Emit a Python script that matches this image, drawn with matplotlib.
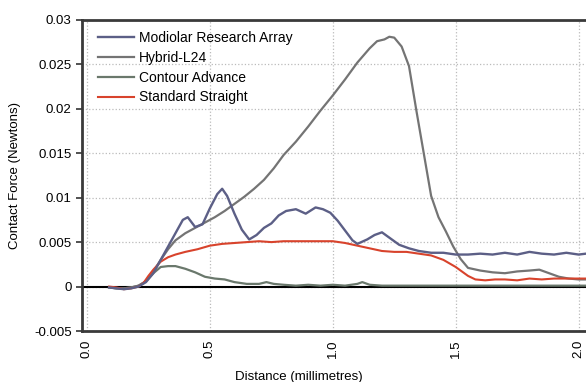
import matplotlib
matplotlib.use("Agg")
import matplotlib.pyplot as plt

plt.rcParams['font.family'] = ['Liberation Sans', 'DejaVu Sans']

# Modiolar Research Array
mra_x = [0.09, 0.12, 0.15, 0.18, 0.21, 0.24, 0.27, 0.30, 0.33, 0.36, 0.39, 0.41,
         0.44, 0.47, 0.50, 0.53, 0.55, 0.57, 0.60, 0.63, 0.66, 0.69, 0.72, 0.75,
         0.78, 0.81, 0.85, 0.89, 0.93, 0.96, 0.99, 1.02, 1.05, 1.08, 1.10, 1.14,
         1.17, 1.20, 1.23, 1.27, 1.31, 1.35, 1.40, 1.45, 1.50, 1.55, 1.60, 1.65,
         1.70, 1.75, 1.80, 1.85, 1.90, 1.95, 2.00, 2.03]
mra_y = [-0.0001, -0.0002, -0.0003, -0.0002, 0.0000, 0.0005, 0.0015, 0.0030,
         0.0045, 0.0060, 0.0075, 0.0078, 0.0067, 0.0070, 0.0088, 0.0104, 0.0110,
         0.0102, 0.0082, 0.0064, 0.0053, 0.0058, 0.0066, 0.0071, 0.0080, 0.0085,
         0.0087, 0.0082, 0.0089, 0.0087, 0.0083, 0.0074, 0.0063, 0.0052, 0.0048,
         0.0053, 0.0058, 0.0061, 0.0055, 0.0047, 0.0043, 0.0040, 0.0038, 0.0038,
         0.0036, 0.0036, 0.0037, 0.0036, 0.0038, 0.0036, 0.0039, 0.0037, 0.0036,
         0.0038, 0.0036, 0.0037]

# Hybrid-L24
hyb_x = [0.09, 0.12, 0.15, 0.18, 0.21, 0.24, 0.27, 0.30, 0.33, 0.36, 0.40, 0.44,
         0.48, 0.52, 0.56, 0.60, 0.64, 0.68, 0.72, 0.76, 0.80, 0.85, 0.90, 0.95,
         1.00, 1.05, 1.10, 1.15, 1.18, 1.21, 1.23, 1.25, 1.28, 1.31, 1.34, 1.37,
         1.40, 1.43, 1.46, 1.49, 1.52, 1.55, 1.60, 1.65, 1.70, 1.75, 1.80, 1.84,
         1.88, 1.92, 1.96, 2.00, 2.03]
hyb_y = [-0.0001, -0.0002, -0.0002, -0.0001, 0.0001, 0.0006, 0.0017, 0.0030,
         0.0042, 0.0052, 0.0060, 0.0066, 0.0072, 0.0078, 0.0085, 0.0093, 0.0101,
         0.0110, 0.0120, 0.0133, 0.0148, 0.0163, 0.0180, 0.0198, 0.0215, 0.0233,
         0.0252, 0.0268, 0.0276, 0.0278, 0.0281, 0.0280, 0.0270, 0.0248, 0.0198,
         0.0150, 0.0102, 0.0078, 0.0062, 0.0045, 0.0031, 0.0021, 0.0018, 0.0016,
         0.0015, 0.0017, 0.0018, 0.0019, 0.0015, 0.0011, 0.0009, 0.0008, 0.0008]

# Contour Advance
con_x = [0.09, 0.12, 0.15, 0.18, 0.21, 0.24, 0.27, 0.30, 0.33, 0.36, 0.40, 0.44,
         0.48, 0.52, 0.56, 0.60, 0.65, 0.70, 0.73, 0.76, 0.80, 0.85, 0.90, 0.95,
         1.00, 1.05, 1.10, 1.12, 1.15, 1.20, 1.30, 1.40, 1.50, 1.60, 1.70, 1.80,
         1.90, 2.03]
con_y = [-0.0001, -0.0002, -0.0002, -0.0001, 0.0001, 0.0006, 0.0015, 0.0022,
         0.0023, 0.0023, 0.0020, 0.0016, 0.0011, 0.0009, 0.0008, 0.0005, 0.0003,
         0.0003, 0.0005, 0.0003, 0.0002, 0.0001, 0.0002, 0.0001, 0.0002, 0.0001,
         0.0003, 0.0005, 0.0002, 0.0001, 0.0001, 0.0001, 0.0001, 0.0001, 0.0001,
         0.0001, 0.0001, 0.0001]

# Standard Straight
std_x = [0.09, 0.12, 0.15, 0.18, 0.21, 0.23, 0.25, 0.27, 0.30, 0.33, 0.36, 0.40,
         0.45, 0.50, 0.55, 0.60, 0.65, 0.70, 0.75, 0.80, 0.85, 0.90, 0.95, 1.00,
         1.05, 1.10, 1.15, 1.20, 1.25, 1.30, 1.35, 1.40, 1.45, 1.50, 1.55, 1.58,
         1.62, 1.66, 1.70, 1.75, 1.80, 1.85, 1.90, 1.95, 2.00, 2.03]
std_y = [0.0000, -0.0001, -0.0003, -0.0002, 0.0000, 0.0004, 0.0012, 0.0019,
         0.0028, 0.0033, 0.0036, 0.0039, 0.0042, 0.0046, 0.0048, 0.0049, 0.0050,
         0.0051, 0.0050, 0.0051, 0.0051, 0.0051, 0.0051, 0.0051, 0.0049, 0.0046,
         0.0043, 0.0040, 0.0039, 0.0039, 0.0037, 0.0035, 0.0030, 0.0022, 0.0012,
         0.0008, 0.0007, 0.0008, 0.0008, 0.0007, 0.0009, 0.0008, 0.0009, 0.0009,
         0.0009, 0.0009]

x_ticks = [0.0, 0.5, 1.0, 1.5, 2.0]
x_ticklabels = ['0.0', '0.5', '1.0', '1.5', '2.0']
y_ticks = [-0.005, 0, 0.005, 0.01, 0.015, 0.02, 0.025, 0.03]
y_ticklabels = ['-0.005', '0', '0.005', '0.01', '0.015', '0.02', '0.025', '0.03']

fig = plt.figure(figsize=(5.86, 3.82), dpi=100)
ax = fig.add_axes([0.14, 0.1335, 0.86, 0.8145])

ax.axhline(0, color='black', linewidth=1.5, zorder=1)

ax.plot(con_x, con_y, color='#6a786c', linewidth=1.6, label='Contour Advance', zorder=3)
ax.plot(std_x, std_y, color='#d8432c', linewidth=1.5, label='Standard Straight', zorder=4)
ax.plot(hyb_x, hyb_y, color='#747474', linewidth=1.6, label='Hybrid-L24', zorder=3)
ax.plot(mra_x, mra_y, color='#5c5f86', linewidth=1.7, label='Modiolar Research Array', zorder=5)

ax.set_xlim(-0.02, 2.03)
ax.set_ylim(-0.005, 0.03)
ax.set_xticks(x_ticks)
ax.set_xticklabels(x_ticklabels, rotation=90, fontsize=9.5)
ax.set_yticks(y_ticks)
ax.set_yticklabels(y_ticklabels, fontsize=9.5)
ax.tick_params(axis='x', length=0, pad=6)
ax.tick_params(axis='y', length=4, width=1.2, color='#333333')

ax.grid(True, color='#bbbbbb', linestyle=':', linewidth=0.9)
ax.set_axisbelow(True)

for side in ['left', 'bottom', 'top']:
    ax.spines[side].set_color('#3a3a3a')
    ax.spines[side].set_linewidth(2)
ax.spines['right'].set_visible(False)

ax.set_xlabel('Distance (millimetres)', fontsize=9.5)
ax.set_ylabel('Contact Force (Newtons)', fontsize=9.5, labelpad=9)
ax.xaxis.set_label_coords(0.43, -0.128)

handles, labels = ax.get_legend_handles_labels()
order = [3, 2, 0, 1]
ax.legend([handles[i] for i in order], [labels[i] for i in order],
          loc='upper left', frameon=False, fontsize=10, handlelength=2.65,
          handletextpad=0.35, labelspacing=0.42, borderaxespad=0.4,
          bbox_to_anchor=(0.009, 1.0))

fig.savefig('out.png', dpi=100)
